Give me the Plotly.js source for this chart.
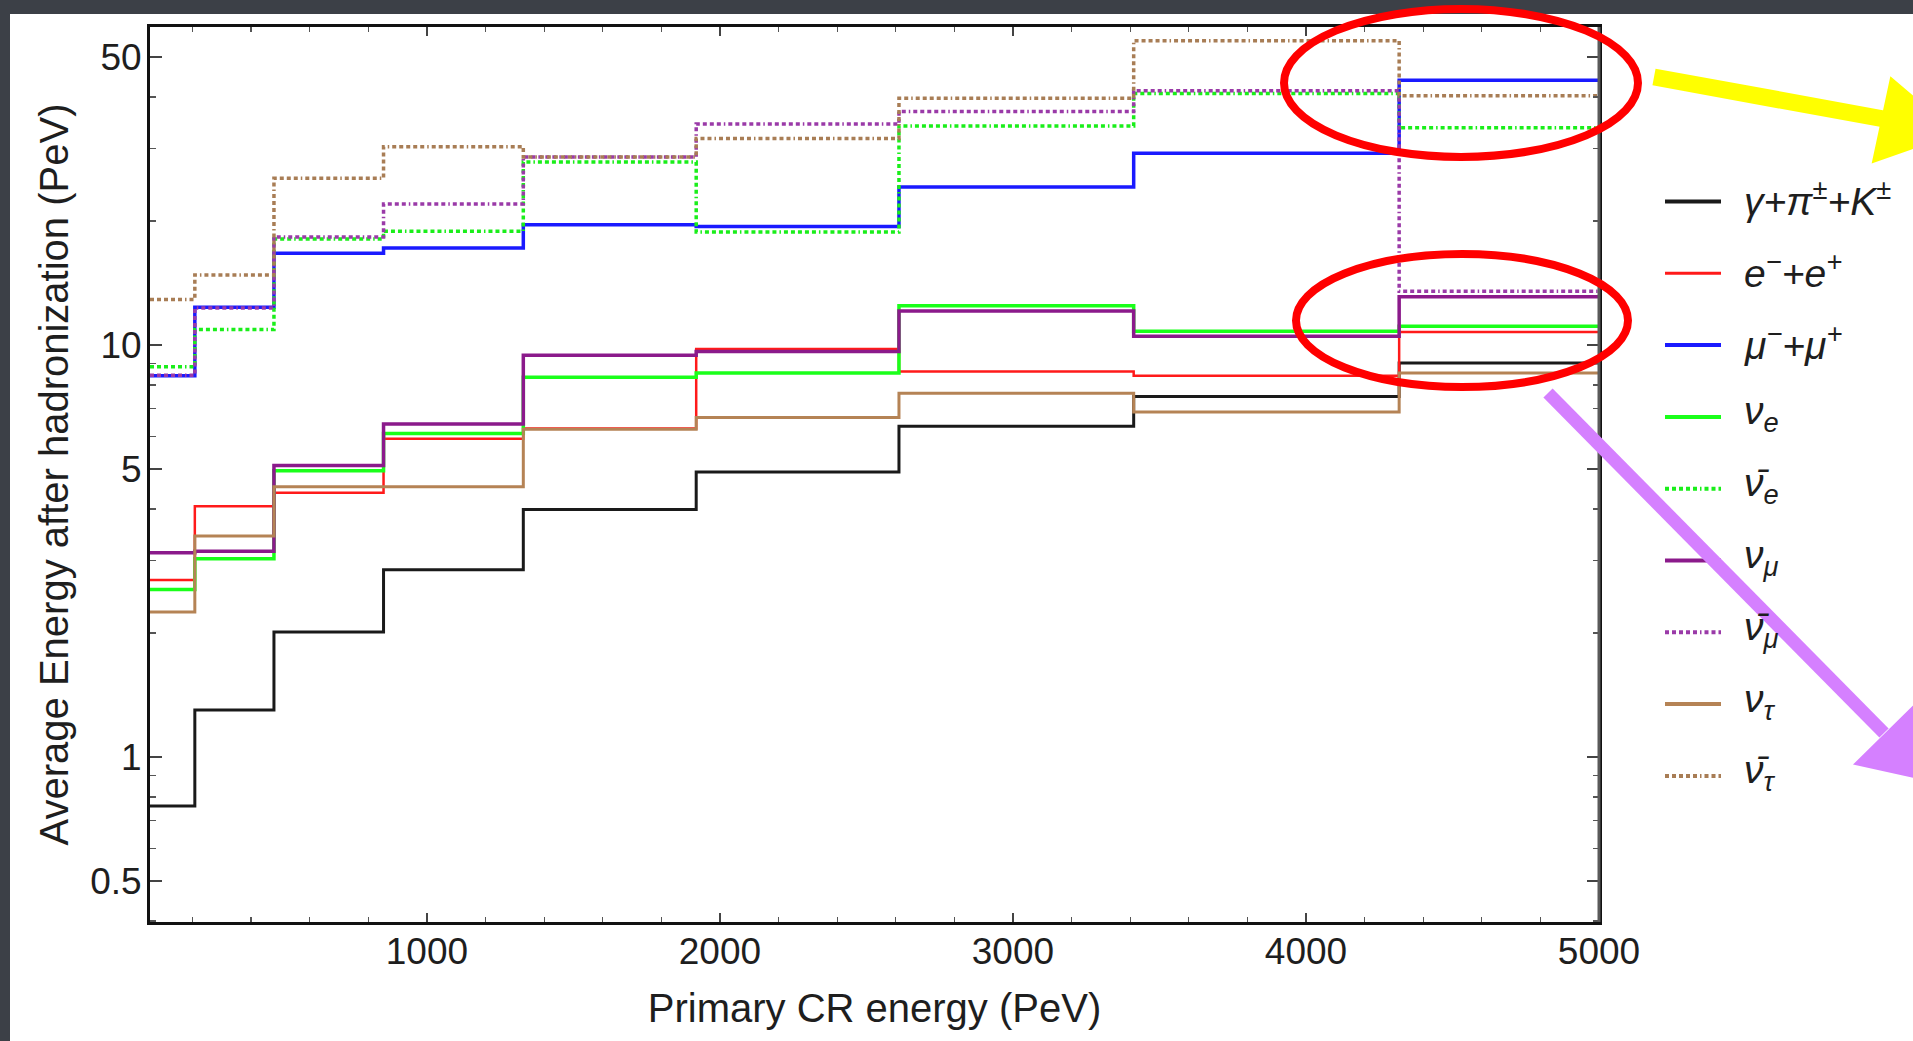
<!DOCTYPE html>
<html>
<head>
<meta charset="utf-8">
<script src="https://cdn.plot.ly/plotly-3.0.1.min.js"></script>
<style>
  html, body { margin: 0; padding: 0; background: #3c4047; overflow: hidden; }
  #chart { width: 1913px; height: 1041px; }
</style>
</head>
<body>
<div id="chart"></div>
<script>
// Bin edges of the primary CR energy (PeV)
const binEdges = [55, 208, 478, 852, 1329, 1919, 2611, 3412, 4318, 5000];

// Average energy after hadronization (PeV), one value per bin
const gammaPiK   = [0.76, 1.30, 2.01, 2.85, 3.99, 4.92, 6.35, 7.50, 9.05];
const electrons  = [2.69, 4.06, 4.38, 5.92, 6.27, 9.78, 8.63, 8.42, 10.75];
const muons      = [8.42, 12.35, 16.7, 17.2, 19.6, 19.4, 24.2, 29.2, 43.9];
const nuE        = [2.55, 3.03, 4.95, 6.10, 8.35, 8.55, 12.45, 10.8, 11.1];
const nuEbar     = [8.86, 10.9, 18.1, 18.9, 27.8, 18.8, 34.0, 40.8, 33.7];
const nuMu       = [3.13, 3.16, 5.10, 6.43, 9.45, 9.65, 12.1, 10.5, 13.1];
const nuMubar    = [8.45, 12.3, 18.3, 22.0, 28.6, 34.4, 36.9, 41.4, 13.5];
const nuTau      = [2.25, 3.44, 4.53, 4.53, 6.25, 6.67, 7.64, 6.88, 8.55];
const nuTaubar   = [12.9, 14.8, 25.4, 30.3, 28.6, 31.7, 39.7, 54.8, 40.3];

const seriesNames = [
  'γ+π<sup>±</sup>+K<sup>±</sup>',
  'e<sup>−</sup>+e<sup>+</sup>',
  'μ<sup>−</sup>+μ<sup>+</sup>',
  'ν<sub>e</sub>',
  'ν̄<sub>e</sub>',
  'ν<sub>μ</sub>',
  'ν̄<sub>μ</sub>',
  'ν<sub>τ</sub>',
  'ν̄<sub>τ</sub>'
];
const seriesValues = [gammaPiK, electrons, muons, nuE, nuEbar, nuMu, nuMubar, nuTau, nuTaubar];

const yTickVals = [0.5, 1, 5, 10, 50];
const yTickText = ['0.5', '1', '5', '10', '50'];
const yMinorTickVals = [0.4, 0.6, 0.7, 0.8, 0.9, 2, 3, 4, 6, 7, 8, 9, 20, 30, 40];

// ---- styles ----
const dotDash = '4px,3px,4px,3px,4px,3px,4px,3px,4px,3px,1.5px,3px';
const styles = [
  {color: '#1a1a1a', width: 3,   dash: 'solid'},
  {color: '#ff1a1a', width: 2.5, dash: 'solid'},
  {color: '#1a1aff', width: 3.5, dash: 'solid'},
  {color: '#1aff1a', width: 3.5, dash: 'solid'},
  {color: '#1aee1a', width: 3.5, dash: dotDash},
  {color: '#8b1a8b', width: 3.5, dash: 'solid'},
  {color: '#9a3aa8', width: 3.5, dash: dotDash},
  {color: '#b58355', width: 3,   dash: 'solid'},
  {color: '#a87d55', width: 3.5, dash: dotDash}
];

const traces = seriesValues.map((vals, i) => ({
  type: 'scatter',
  mode: 'lines',
  x: binEdges,
  y: vals.concat([vals[vals.length - 1]]),
  name: seriesNames[i],
  line: {shape: 'hv', color: styles[i].color, width: styles[i].width, dash: styles[i].dash},
  showlegend: false,
  hoverinfo: 'skip'
}));

// ---- layout geometry (pixels) ----
const W = 1913, H = 1041;
const L = 150, R = 1599, T = 27, B = 922;
const px = v => (v - L) / (R - L);
const py = v => (B - v) / (B - T);

const font = 'Liberation Sans, Arial, Helvetica, sans-serif';
const shapes = [];
const annotations = [];

// slide white panel
shapes.push({type: 'rect', xref: 'paper', yref: 'paper', layer: 'below',
  x0: px(10), x1: px(W + 10), y0: py(H + 10), y1: py(14),
  fillcolor: '#ffffff', line: {width: 0}});

// right axis in gray
shapes.push({type: 'line', xref: 'paper', yref: 'paper', x0: 1, x1: 1, y0: 0, y1: 1,
  line: {color: '#5a5a5a', width: 3}});

// legend
const legendY0 = 201.5, legendStep = 71.8;
seriesNames.forEach((name, i) => {
  const yy = legendY0 + i * legendStep;
  shapes.push({type: 'line', xref: 'paper', yref: 'paper',
    x0: px(1665), x1: px(1721), y0: py(yy), y1: py(yy),
    line: {color: styles[i].color, width: i === 1 ? 3 : 4, dash: styles[i].dash}});
  annotations.push({xref: 'paper', yref: 'paper', x: px(1742), y: py(yy - 3),
    xanchor: 'left', yanchor: 'middle', showarrow: false, text: name,
    font: {family: font, size: 39, color: '#1e1e1e', style: 'italic'}});
});

// red ellipses
shapes.push({type: 'circle', xref: 'paper', yref: 'paper',
  x0: px(1284), x1: px(1638), y0: py(157), y1: py(9),
  line: {color: '#ff0000', width: 8}});
shapes.push({type: 'circle', xref: 'paper', yref: 'paper',
  x0: px(1296), x1: px(1628), y0: py(387), y1: py(254),
  line: {color: '#ff0000', width: 8}});

// yellow arrow
shapes.push({type: 'line', xref: 'paper', yref: 'paper',
  x0: px(1654), y0: py(77), x1: px(1884), y1: py(119),
  line: {color: '#ffff00', width: 17}});
shapes.push({type: 'path', xref: 'paper', yref: 'paper',
  path: `M${px(1891)},${py(78)} L${px(1873)},${py(162)} L${px(1955)},${py(133)} Z`,
  fillcolor: '#ffff00', line: {color: '#ffff00', width: 2}});

// violet arrow
shapes.push({type: 'line', xref: 'paper', yref: 'paper',
  x0: px(1548), y0: py(393), x1: px(1884), y1: py(733),
  line: {color: '#d580ff', width: 13}});
shapes.push({type: 'path', xref: 'paper', yref: 'paper',
  path: `M${px(1855)},${py(764)} L${px(1916)},${py(704)} L${px(1928)},${py(780)} Z`,
  fillcolor: '#d580ff', line: {color: '#d580ff', width: 2}});

const layout = {
  width: W, height: H,
  margin: {l: L, r: W - R, t: T, b: H - B, pad: 0},
  paper_bgcolor: '#3c4047',
  plot_bgcolor: '#ffffff',
  showlegend: false,
  font: {family: font, color: '#222222'},
  xaxis: {
    range: [55, 5000],
    tick0: 0, dtick: 1000,
    ticks: 'inside', ticklen: 9, tickwidth: 1.5, tickcolor: '#444444',
    minor: {tick0: 0, dtick: 200, ticks: 'inside', ticklen: 5, tickwidth: 1.2, tickcolor: '#555555'},
    showline: true, linecolor: '#111111', linewidth: 3, mirror: 'ticks',
    showgrid: false, zeroline: false,
    tickfont: {size: 37, family: font, color: '#1e1e1e'},
    ticklabelstandoff: -5,
    title: {text: 'Primary CR energy (PeV)', font: {size: 40, family: font, color: '#1e1e1e'}, standoff: 23}
  },
  yaxis: {
    type: 'log',
    range: [-0.4005, 1.772],
    tickmode: 'array', tickvals: yTickVals, ticktext: yTickText,
    ticks: 'inside', ticklen: 12, tickwidth: 1.5, tickcolor: '#444444',
    minor: {tickmode: 'array', tickvals: yMinorTickVals, ticks: 'inside', ticklen: 6, tickwidth: 1.2, tickcolor: '#555555'},
    showline: true, linecolor: '#111111', linewidth: 3, mirror: 'ticks',
    showgrid: false, zeroline: false,
    tickfont: {size: 37, family: font, color: '#1e1e1e'},
    ticklabelstandoff: -2,
    title: {text: 'Average Energy after hadronization (PeV)', font: {size: 40, family: font, color: '#1e1e1e'}, standoff: 10}
  },
  shapes: shapes,
  annotations: annotations
};

Plotly.newPlot('chart', traces, layout, {staticPlot: true, displayModeBar: false});
</script>
</body>
</html>
